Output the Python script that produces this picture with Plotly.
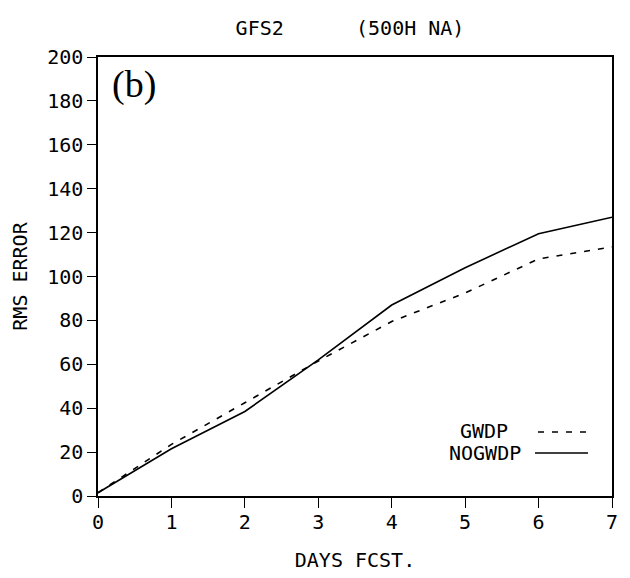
import plotly.graph_objects as go

days = [0, 1, 2, 3, 4, 5, 6, 7]
gwdp = [1.5, 23.5, 42.5, 61.5, 79.5, 92.5, 108.0, 113.5]
nogwdp = [1.5, 21.5, 38.5, 62.0, 87.0, 104.0, 119.5, 127.0]
y_ticks = [0, 20, 40, 60, 80, 100, 120, 140, 160, 180, 200]
x_ticks = [0, 1, 2, 3, 4, 5, 6, 7]

MONO = "DejaVu Sans Mono"
FS = 20

# plot area in figure pixels (page has an 8px body offset)
L, T, PW, PH = 90, 49, 514, 439

fig = go.Figure()
fig.add_trace(go.Scatter(x=days, y=gwdp, mode="lines", name="GWDP",
                         line=dict(color="black", width=1.6, dash="6px,8px")))
fig.add_trace(go.Scatter(x=days, y=nogwdp, mode="lines", name="NOGWDP",
                         line=dict(color="black", width=1.6)))

fig.update_layout(
    width=630, height=578,
    margin=dict(l=L, r=630 - L - PW, t=T, b=578 - T - PH, autoexpand=False),
    paper_bgcolor="white", plot_bgcolor="white",
    showlegend=False,
    font=dict(family=MONO, color="black", size=FS),
    title=dict(text="GFS2      (500H NA)", x=342 / 630, xanchor="center",
               y=1 - 20 / 578, yanchor="middle", font=dict(family=MONO, size=FS)),
    xaxis=dict(range=[0, 7], tickvals=x_ticks, ticks="outside", ticklen=10,
               tickwidth=1.3, tickcolor="black", showgrid=False, zeroline=False,
               showline=True, linecolor="black", linewidth=1.5, mirror=True,
               tickfont=dict(family=MONO, size=FS), ticklabelstandoff=-3,
               title=dict(text="DAYS FCST.", standoff=20, font=dict(family=MONO, size=FS))),
    yaxis=dict(range=[0, 200], tickvals=y_ticks, ticks="outside", ticklen=9,
               tickwidth=1.3, tickcolor="black", showgrid=False, zeroline=False,
               showline=True, linecolor="black", linewidth=1.5, mirror=True,
               tickfont=dict(family=MONO, size=FS),
               title=dict(text="RMS ERROR", standoff=20, font=dict(family=MONO, size=FS))),
)

fig.add_annotation(text="(b)", xref="paper", yref="paper", x=0.024, y=0.99,
                   xanchor="left", yanchor="top", showarrow=False,
                   font=dict(family="Liberation Serif", size=38, color="black"))

# legend (text followed by line sample); positions in reference-screen pixels
SX0, SY0 = 98, 496
fig.add_annotation(text="GWDP", xref="paper", yref="paper", x=(510 - SX0) / PW,
                   y=(SY0 - 431) / PH, xanchor="right", yanchor="middle",
                   showarrow=False, font=dict(family=MONO, size=FS))
fig.add_annotation(text="NOGWDP", xref="paper", yref="paper", x=(523 - SX0) / PW,
                   y=(SY0 - 453) / PH, xanchor="right", yanchor="middle",
                   showarrow=False, font=dict(family=MONO, size=FS))
fig.add_shape(type="line", xref="paper", yref="paper",
              x0=(538 - SX0) / PW, x1=(588 - SX0) / PW,
              y0=(SY0 - 432) / PH, y1=(SY0 - 432) / PH,
              line=dict(color="black", width=1.6, dash="6px,8px"))
fig.add_shape(type="line", xref="paper", yref="paper",
              x0=(535 - SX0) / PW, x1=(588 - SX0) / PW,
              y0=(SY0 - 453) / PH, y1=(SY0 - 453) / PH,
              line=dict(color="black", width=1.6))

fig.write_html("out.html")
